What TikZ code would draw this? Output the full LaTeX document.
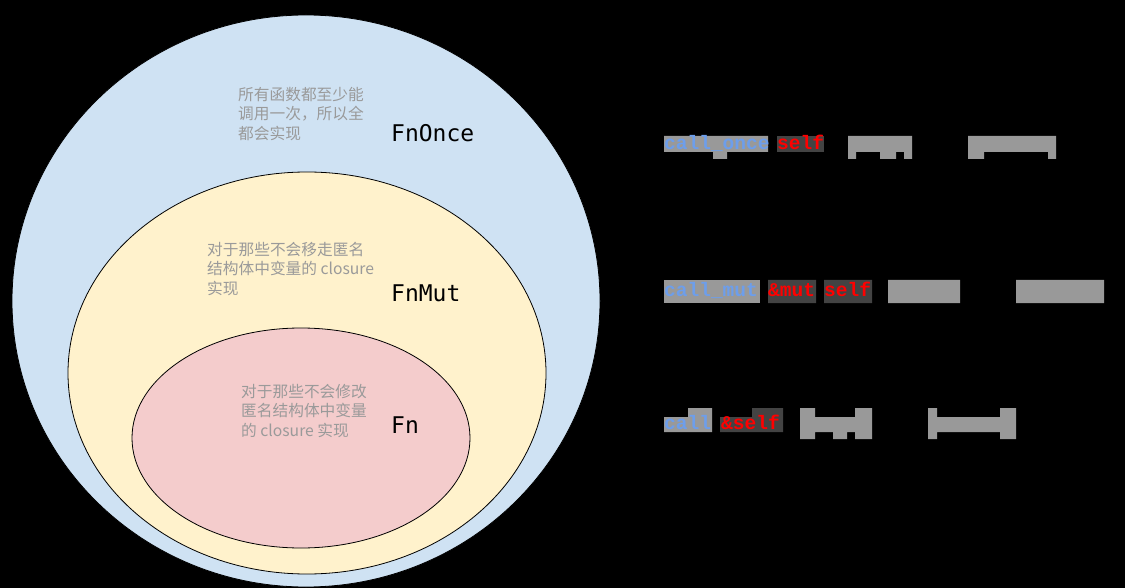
\documentclass[tikz,border=0pt]{standalone}
\usepackage{fontspec}
\newfontfamily\cjk{Noto Sans CJK SC}
\newfontfamily\traitfont{DejaVu Sans Mono}
\newfontfamily\codefont{Liberation Mono}
\definecolor{onceblue}{HTML}{CFE2F3}
\definecolor{mutyellow}{HTML}{FFF2CC}
\definecolor{fnpink}{HTML}{F4CCCC}
\definecolor{notegray}{HTML}{9A9A9A}
\definecolor{hlgray}{HTML}{999999}
\definecolor{hldark}{HTML}{434343}
\definecolor{codeblue}{HTML}{6D9EEB}
\definecolor{codered}{HTML}{FF0000}
\begin{document}
\begin{tikzpicture}[x=1pt, y=-1pt,
    ring/.style={draw=black, line width=0.8pt},
    note/.style={anchor=north west, inner sep=0pt, align=left, text=notegray,
      font=\cjk\fontsize{15.7}{19.5}\selectfont},
    trait/.style={anchor=base west, inner sep=0pt, font=\traitfont\fontsize{23}{23}\selectfont},
    code/.style={anchor=base west, inner sep=0pt, font=\codefont\bfseries\fontsize{19.5}{20}\selectfont}]
  % page and background
  \useasboundingbox (0,0) rectangle (1125,588);
  \fill[black] (0,0) rectangle (1125,588);
  % nested sets
  \draw[ring, fill=onceblue] (306,301) ellipse [x radius=294pt, y radius=286pt];
  \draw[ring, fill=mutyellow] (307,373) ellipse [x radius=239pt, y radius=201pt];
  \draw[ring, fill=fnpink] (301,438) ellipse [x radius=169pt, y radius=110pt];
  % trait names
  \node[trait] (fnonce) at (391,141.5) {FnOnce};
  \node[trait] (fnmut) at (391,301.5) {FnMut};
  \node[trait] (fn) at (391,433) {Fn};
  % notes
  \node[note] (noteonce) at (238,87) {所有函数都至少能\\调用一次，所以全\\都会实现};
  \node[note] (notemut) at (207,242) {对于那些不会移走匿名\\结构体中变量的 closure\\实现};
  \node[note] (notefn) at (241,384) {对于那些不会修改\\匿名结构体中变量\\的 closure 实现};
  % signatures: highlight boxes
  \fill[hlgray] (664,136) rectangle (768,152) (713,152) rectangle (727,159);
  \fill[hldark] (777,136) rectangle (824,152);
  \fill[hlgray] (848,136) rectangle (912,152) (848,152) rectangle (856,159)
    (880,152) rectangle (896,159) (904,152) rectangle (912,159);
  \fill[hlgray] (968,136) rectangle (1056,152) (968,152) rectangle (984,159)
    (1048,152) rectangle (1056,159);
  \fill[hlgray] (664,280) rectangle (760,303);
  \fill[hldark] (768,280) rectangle (816,303) (824,280) rectangle (872,303);
  \fill[hlgray] (888,280) rectangle (960,303) (1016,280) rectangle (1104,303);
  \fill[hlgray] (664,417) rectangle (712,432) (688,408) rectangle (712,417);
  \fill[hldark] (720,417) rectangle (783,432) (752,408) rectangle (783,417);
  \fill[hlgray] (800,408) rectangle (815,439) (855,408) rectangle (872,439)
    (815,417) rectangle (855,432) (833,432) rectangle (847,439);
  \fill[hlgray] (928,408) rectangle (937,439) (1000,408) rectangle (1016,439)
    (937,417) rectangle (1000,432);
  % signatures: text
  \node[code, text=codeblue] (callonce) at (664,150) {call\_once};
  \node[code, text=codered] (selfonce) at (777,150) {self};
  \node[code, text=codeblue] (callmut) at (664,297) {call\_mut};
  \node[code, text=codered] (mutref) at (768,297) {\&mut};
  \node[code, text=codered] (selfmut) at (824,297) {self};
  \node[code, text=codeblue] (call) at (664,429) {call};
  \node[code, text=codered] (selfref) at (721,429) {\&self};
\end{tikzpicture}
\end{document}
